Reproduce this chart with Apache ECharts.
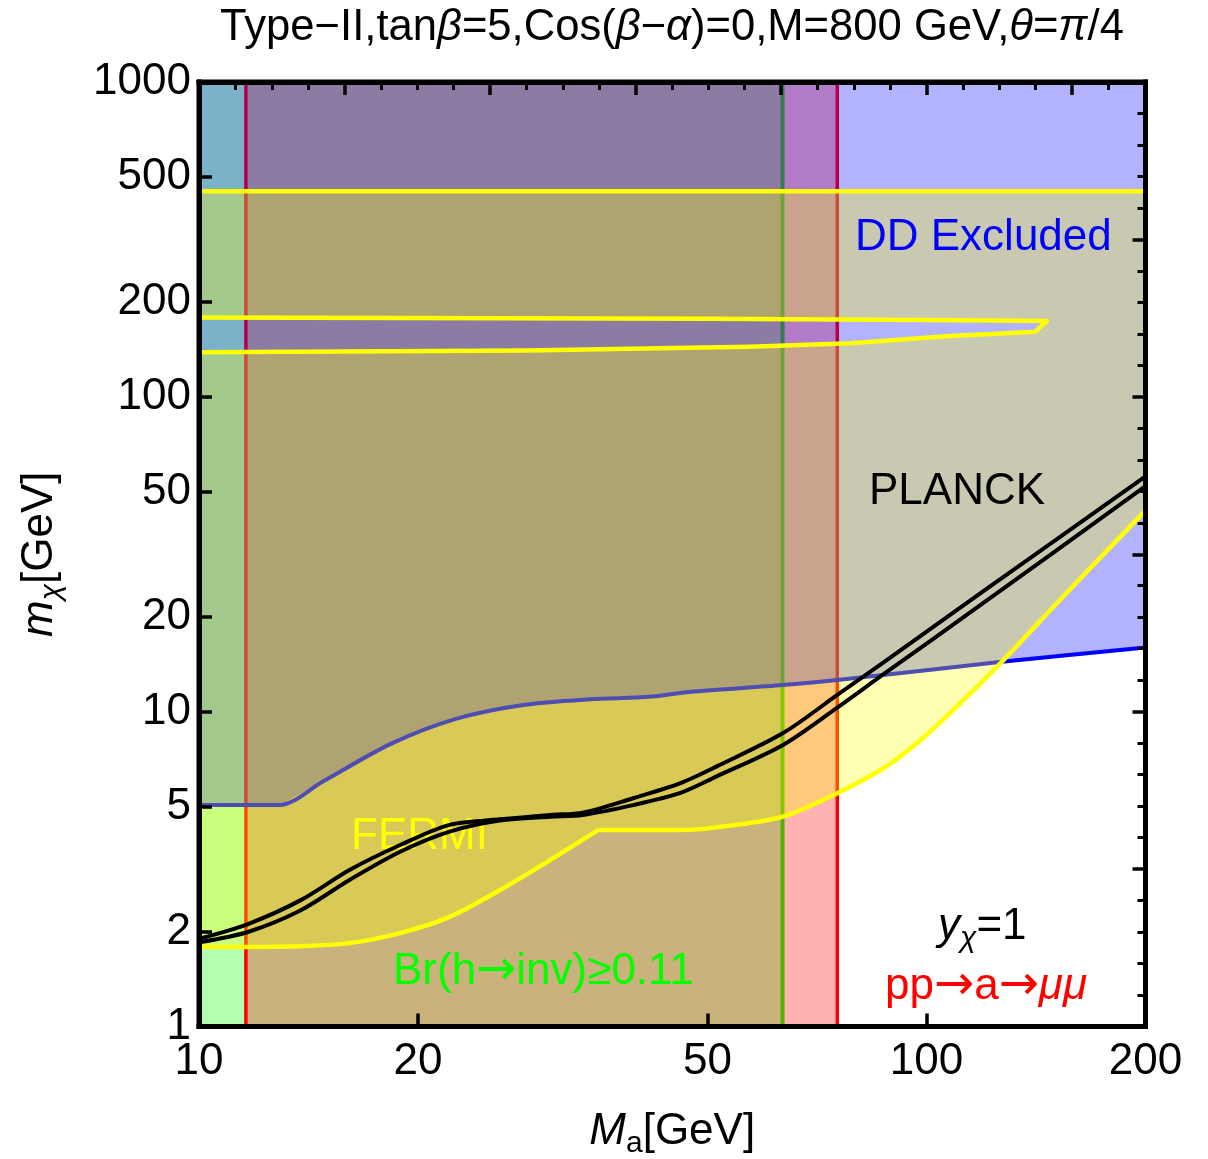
<!DOCTYPE html>
<html>
<head>
<meta charset="utf-8">
<title>Type-II, M_a vs m_chi</title>
<script src="https://cdn.jsdelivr.net/npm/echarts@6.0.0/dist/echarts.min.js"></script>
<style>
  html, body { margin: 0; padding: 0; background: #fff; }
  #chart { width: 1208px; height: 1159px; }
</style>
</head>
<body>
<div id="chart"></div>
<script>
  // tick labels
  const xTicks = [10, 20, 50, 100, 200]
  const yTicks = [1, 2, 5, 10, 20, 50, 100, 200, 500, 1000]

  // vertical strips (M_a range): Br(h->inv)>=0.11 and pp->a->mumu
  const brInvMa = [10, 63.4]
  const dimuonMa = [11.6, 75.4]

  // DD excluded: region above this curve
  const ddMa = [10, 12.9, 14.8, 18.35, 22.6, 27.9, 34.5, 41.6, 47.2, 63.5, 75.4, 126.9, 200]
  const ddMchi = [5.05, 5.05, 6.0, 7.9, 9.5, 10.5, 10.95, 11.15, 11.55, 12.15, 12.6, 14.4, 16.0]

  // FERMI region: lower edge (corner at index 7), flat top, and the notch from the left
  const fermiLowMa = [10, 13.8, 16.1, 18.9, 22.1, 25.9, 30.4, 35.4, 45.8, 51.4, 63.5, 75.4, 87.1, 96.7, 108.7, 126.9, 153.8, 200]
  const fermiLowMchi = [1.79, 1.80, 1.84, 1.98, 2.23, 2.71, 3.38, 4.21, 4.21, 4.29, 4.64, 5.51, 6.6, 7.9, 10.1, 14.4, 23.1, 43.5]
  const fermiCorner = 7
  const fermiTop = 450
  const hornUpMa = [10, 50, 100, 146.4]
  const hornUpMchi = [178.5, 177, 175.5, 174.2]
  const hornLowMa = [141.1, 107.7, 78.6, 57.1, 28.2, 10]
  const hornLowMchi = [161, 156, 148, 144.3, 140.3, 138.6]

  // PLANCK relic density band (two contours)
  const planckMa = [10, 11.7, 13.8, 16.1, 18.9, 22.1, 25.9, 30.4, 33.7, 39.5, 45.8, 51.4, 63.5, 75.4, 87.1, 119.6, 200]
  const planckUpper = [1.90, 2.12, 2.52, 3.14, 3.77, 4.37, 4.55, 4.70, 4.78, 5.31, 5.92, 6.69, 8.55, 11.3, 14.3, 24.1, 55.9]
  const planckLower = [1.85, 2.00, 2.34, 2.92, 3.59, 4.16, 4.51, 4.64, 4.70, 5.05, 5.51, 6.22, 7.84, 10.3, 13.1, 22.1, 52.0]

  const FONT = 'Liberation Sans, Arial, Helvetica, sans-serif'
  const ARROW_FONT = 'DejaVu Sans, sans-serif'
  const xMin = xTicks[0]
  const xMax = xTicks[xTicks.length - 1]
  const yMin = yTicks[0]
  const yMax = yTicks[yTicks.length - 1]

  function zip(xs, ys) {
    return xs.map((x, i) => [x, ys[i]])
  }

  // filled area drawn as a polygon through the axes
  function region(name, pts, fill, stroke, width, z) {
    return {
      name: name,
      type: 'custom',
      xAxisIndex: 0,
      yAxisIndex: 0,
      clip: true,
      silent: true,
      z: z,
      data: pts,
      encode: { x: 0, y: 1 },
      renderItem: function (params, api) {
        if (params.dataIndex !== 0) {
          return null
        }
        return {
          type: 'polygon',
          shape: { points: pts.map(p => api.coord(p)) },
          style: { fill: fill, stroke: stroke || null, lineWidth: width || 0, lineJoin: 'round' }
        }
      }
    }
  }

  // line series put their stroke above custom shapes of the same z,
  // so every layer gets its own z to keep the painting order
  function edge(name, pts, color, width, smooth, z) {
    return {
      name: name,
      type: 'line',
      xAxisIndex: 0,
      yAxisIndex: 0,
      data: pts,
      showSymbol: false,
      symbol: 'none',
      smooth: smooth || false,
      clip: true,
      silent: true,
      z: z,
      lineStyle: { color: color, width: width, join: 'round' }
    }
  }

  const brInvPts = [[brInvMa[0], yMin], [brInvMa[1], yMin], [brInvMa[1], yMax], [brInvMa[0], yMax]]
  const dimuonPts = [[dimuonMa[0], yMin], [dimuonMa[1], yMin], [dimuonMa[1], yMax], [dimuonMa[0], yMax]]
  const ddLine = zip(ddMa, ddMchi)
  const ddPts = ddLine.concat([[xMax, yMax], [xMin, yMax]])
  const fermiLow = zip(fermiLowMa, fermiLowMchi)
  const hornPts = zip(hornUpMa, hornUpMchi).concat(zip(hornLowMa, hornLowMchi))
  const fermiPts = fermiLow.concat([[xMax, fermiTop], [xMin, fermiTop]]).concat(hornPts)

  const log10 = v => Math.log10(v)
  const fmt = v => String(Math.round(Math.pow(10, v)))
  const frameLine = { show: true, lineStyle: { color: '#000', width: 5, cap: 'square' } }
  const tickStyle = { color: '#000', width: 3.5 }
  const labelStyle = { color: '#000', fontFamily: FONT, fontSize: 44 }

  const chart = echarts.init(document.getElementById('chart'), null, { renderer: 'canvas' })

  chart.setOption({
    animation: false,
    backgroundColor: '#fff',
    title: {
      text: 'Type\u2212II,tan{i|β}=5,Cos({i|β}\u2212{i|α})=0,M=800 GeV,{i|θ}={i|π}/4',
      left: 667,
      top: 1,
      textAlign: 'center',
      textStyle: {
        fontFamily: FONT,
        fontSize: 43.6,
        fontWeight: 'normal',
        color: '#000',
        rich: {
          i: { fontFamily: FONT, fontSize: 43.6, fontStyle: 'italic', color: '#000' }
        }
      }
    },
    grid: {
      left: 199,
      right: 62.5,
      top: 82,
      bottom: 132.5,
      show: true,
      borderColor: '#000',
      borderWidth: 5,
      backgroundColor: '#fff',
      containLabel: false,
      outerBoundsMode: 'none'
    },
    xAxis: [
      { type: 'log', logBase: 10, min: xMin, max: xMax, show: false },
      {
        type: 'value',
        position: 'bottom',
        min: log10(xMin),
        max: log10(xMax),
        z: 10,
        axisLine: frameLine,
        axisTick: { show: true, inside: true, length: 13, lineStyle: tickStyle, customValues: xTicks.map(log10) },
        axisLabel: Object.assign({ margin: 13, formatter: fmt, customValues: xTicks.map(log10) }, labelStyle),
        splitLine: { show: false },
        name: '{i|M}{s|a}{n|[GeV]}',
        nameLocation: 'middle',
        nameGap: 78,
        nameMoveOverlap: false,
        nameTextStyle: {
          fontFamily: FONT,
          fontSize: 44,
          color: '#000',
          rich: {
            i: { fontFamily: FONT, fontSize: 44, fontStyle: 'italic', color: '#000' },
            s: { fontFamily: FONT, fontSize: 30, color: '#000', padding: [24, 0, 0, 0] },
            n: { fontFamily: FONT, fontSize: 44, color: '#000' }
          }
        }
      },
      {
        type: 'value',
        position: 'top',
        min: log10(xMin),
        max: log10(xMax),
        interval: 0.2,
        z: 10,
        axisLine: frameLine,
        axisTick: { show: true, inside: true, length: 13, lineStyle: tickStyle },
        minorTick: { show: true, splitNumber: 4, length: 8, lineStyle: { color: '#000', width: 3 } },
        axisLabel: { show: false },
        splitLine: { show: false }
      }
    ],
    yAxis: [
      { type: 'log', logBase: 10, min: yMin, max: yMax, show: false },
      {
        type: 'value',
        position: 'left',
        min: log10(yMin),
        max: log10(yMax),
        z: 10,
        axisLine: frameLine,
        axisTick: { show: true, inside: true, length: 13, lineStyle: tickStyle, customValues: yTicks.map(log10) },
        axisLabel: Object.assign({ margin: 8, formatter: fmt, customValues: yTicks.map(log10) }, labelStyle),
        splitLine: { show: false },
        name: '{i|m}{s|χ}{n|[GeV]}',
        nameLocation: 'middle',
        nameGap: 132,
        nameMoveOverlap: false,
        nameTextStyle: {
          fontFamily: FONT,
          fontSize: 44,
          color: '#000',
          rich: {
            i: { fontFamily: FONT, fontSize: 44, fontStyle: 'italic', color: '#000' },
            s: { fontFamily: FONT, fontSize: 30, fontStyle: 'italic', color: '#000', padding: [24, 0, 0, 0] },
            n: { fontFamily: FONT, fontSize: 44, color: '#000' }
          }
        }
      },
      {
        type: 'value',
        position: 'right',
        min: log10(yMin),
        max: log10(yMax),
        interval: 0.5,
        z: 10,
        axisLine: frameLine,
        axisTick: { show: true, inside: true, length: 13, lineStyle: tickStyle },
        minorTick: { show: true, splitNumber: 5, length: 8, lineStyle: { color: '#000', width: 3 } },
        axisLabel: { show: false },
        splitLine: { show: false }
      }
    ],
    series: [
      region('Br(h→inv)', brInvPts, 'rgba(0,255,0,0.3)', '#00ff00', 4, 1),
      region('pp→a→μμ', dimuonPts, 'rgba(255,0,0,0.3)', '#ff0000', 3.5, 1),
      region('DD Excluded', ddPts, 'rgba(0,0,255,0.3)', null, 0, 1),
      edge('DD edge', ddLine, '#0000ff', 4, 0.3, 1),
      region('FERMI', fermiPts, 'rgba(255,255,0,0.3)', null, 0, 2),
      edge('FERMI low left', fermiLow.slice(0, fermiCorner + 1), '#ffff00', 4.5, 0.3, 2),
      edge('FERMI low right', fermiLow.slice(fermiCorner), '#ffff00', 4.5, 0.3, 2),
      edge('FERMI top', [[xMin, fermiTop], [xMax, fermiTop]], '#ffff00', 4.5, false, 2),
      edge('FERMI notch', hornPts, '#ffff00', 4.5, false, 2),
      edge('PLANCK upper', zip(planckMa, planckUpper), '#000', 4, 0.3, 5),
      edge('PLANCK lower', zip(planckMa, planckLower), '#000', 4, 0.3, 5)
    ],
    graphic: [
      {
        type: 'text', x: 855, y: 238, z: 100, silent: true,
        style: { text: 'DD Excluded', fontFamily: FONT, fontSize: 44, fill: '#0000ff', verticalAlign: 'middle' }
      },
      {
        type: 'text', x: 869, y: 491.5, z: 100, silent: true,
        style: { text: 'PLANCK', fontFamily: FONT, fontSize: 44, fill: '#000', verticalAlign: 'middle' }
      },
      {
        type: 'text', x: 351, y: 836.5, z: 4, silent: true,
        style: { text: 'FERMI', fontFamily: FONT, fontSize: 44, fill: '#ffff00', verticalAlign: 'middle' }
      },
      {
        type: 'text', x: 393, y: 971.5, z: 100, silent: true,
        style: {
          text: '{n|Br(h}{a|→}{n|inv)≥0.11}',
          fontFamily: FONT, fontSize: 44, fill: '#00ff00', verticalAlign: 'middle',
          rich: {
            n: { fontFamily: FONT, fontSize: 44, fill: '#00ff00' },
            a: { fontFamily: ARROW_FONT, fontSize: 48, fill: '#00ff00' }
          }
        }
      },
      {
        type: 'text', x: 938, y: 926.5, z: 100, silent: true,
        style: {
          text: '{i|y}{s|χ}{n|=1}',
          fontFamily: FONT, fontSize: 44, fill: '#000', verticalAlign: 'middle',
          rich: {
            i: { fontFamily: FONT, fontSize: 44, fontStyle: 'italic', fill: '#000' },
            s: { fontFamily: FONT, fontSize: 30, fontStyle: 'italic', fill: '#000', padding: [24, 0, 0, 0] },
            n: { fontFamily: FONT, fontSize: 44, fill: '#000' }
          }
        }
      },
      {
        type: 'text', x: 885, y: 986.5, z: 100, silent: true,
        style: {
          text: '{n|pp}{a|→}{n|a}{a|→}{i|μμ}',
          fontFamily: FONT, fontSize: 44, fill: '#ff0000', verticalAlign: 'middle',
          rich: {
            n: { fontFamily: FONT, fontSize: 44, fill: '#ff0000' },
            a: { fontFamily: ARROW_FONT, fontSize: 48, fill: '#ff0000' },
            i: { fontFamily: FONT, fontSize: 44, fontStyle: 'italic', fill: '#ff0000' }
          }
        }
      }
    ]
  })
</script>
</body>
</html>
